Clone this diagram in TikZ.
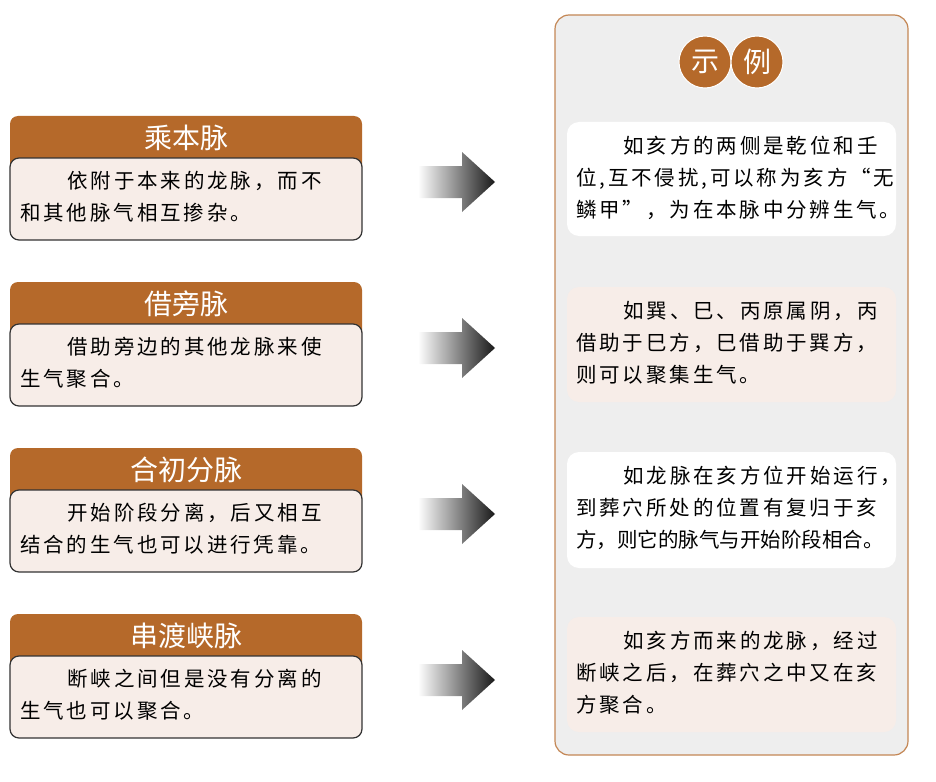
\documentclass[tikz,border=0pt]{standalone}
\usepackage{fontspec}
\usetikzlibrary{positioning}
\newfontfamily\cjk{Noto Sans CJK SC}
\newfontfamily\cjkb[LetterSpace=14]{Noto Sans CJK SC}
\definecolor{rust}{HTML}{B5692A}
\definecolor{pinkbg}{HTML}{F7EDE8}
\definecolor{panelbg}{HTML}{EEEEEE}
\tikzset{
  head/.style={fill=rust, rounded corners=8pt, draw=none},
  body/.style={fill=pinkbg, draw=black!80, line width=1.2pt, rounded corners=9pt},
  txt/.style={align=left, anchor=north west, inner sep=0pt, font=\cjkb\fontsize{20.5}{32}\selectfont},
  title/.style={text=white, font=\cjk\fontsize{28}{28}\selectfont},
  badge/.style={circle, fill=rust, draw=white, line width=1pt, minimum size=52pt, inner sep=0pt, text=white, font=\cjk\fontsize{28}{28}\selectfont}
}
\newcommand{\ind}{\hspace*{2.3em}}
\begin{document}
\begin{tikzpicture}[x=1pt,y=-1pt]
\useasboundingbox (0,0) rectangle (936,781);
% right panel
\draw[fill=panelbg, draw=rust!80, line width=1.2pt, rounded corners=14pt] (555,15) rectangle (908,755);
\node[badge] (shi) at (705,62) {示};
\node[badge] (li) at (757,62) {例};
% example boxes
\fill[white, rounded corners=12pt] (567,122) rectangle (896,236);
\fill[pinkbg, rounded corners=12pt] (567,287) rectangle (896,402);
\fill[white, rounded corners=12pt] (567,452) rectangle (896,568);
\fill[pinkbg, rounded corners=12pt] (567,617) rectangle (896,732);
\node[txt] (ex1) at (576,136) {\ind 如亥方的两侧是乾位和壬\\位,互不侵扰,可以称为亥方“无\\鳞甲”，为在本脉中分辨生气。};
\node[txt] (ex2) at (576,301) {\ind 如巽、巳、丙原属阴，丙\\借助于巳方，巳借助于巽方，\\则可以聚集生气。};
\node[txt] (ex3) at (576,466) {\ind 如龙脉在亥方位开始运行，\\到葬穴所处的位置有复归于亥\\{\cjk 方，则它的脉气与开始阶段相合。}};
\node[txt] (ex4) at (576,631) {\ind 如亥方而来的龙脉，经过\\断峡之后，在葬穴之中又在亥\\方聚合。};
% left boxes
\foreach \dy/\name/\la/\lb [count=\i] in {
  0/乘本脉/依附于本来的龙脉，而不/和其他脉气相互掺杂。,
  166/借旁脉/借助旁边的其他龙脉来使/生气聚合。,
  332/合初分脉/开始阶段分离，后又相互/结合的生气也可以进行凭靠。,
  498/串渡峡脉/断峡之间但是没有分离的/生气也可以聚合。}{
  \fill[head] (10,116+\dy) rectangle (362,175+\dy);
  \node[title] (t\i) at (186,138+\dy) {\name};
  \draw[body] (10,158+\dy) rectangle (362,240+\dy);
  \node[txt] (b\i) at (20,171+\dy) {\ind \la\\\lb};
  \shade[left color=white, right color=black!90]
    (418,166+\dy) -- (462,166+\dy) -- (462,152+\dy) -- (495,182+\dy)
    -- (462,212+\dy) -- (462,198+\dy) -- (418,198+\dy) -- cycle;
}
\end{tikzpicture}
\end{document}
